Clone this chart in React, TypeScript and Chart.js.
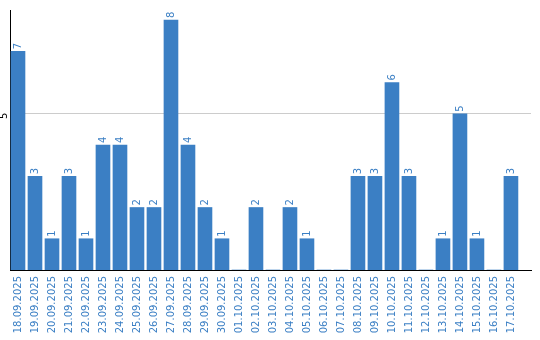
import React, { useEffect, useRef } from "react";
import { Chart, registerables } from "chart.js";

Chart.register(...registerables);

const dates = [
  "18.09.2025", "19.09.2025", "20.09.2025", "21.09.2025", "22.09.2025",
  "23.09.2025", "24.09.2025", "25.09.2025", "26.09.2025", "27.09.2025",
  "28.09.2025", "29.09.2025", "30.09.2025", "01.10.2025", "02.10.2025",
  "03.10.2025", "04.10.2025", "05.10.2025", "06.10.2025", "07.10.2025",
  "08.10.2025", "09.10.2025", "10.10.2025", "11.10.2025", "12.10.2025",
  "13.10.2025", "14.10.2025", "15.10.2025", "16.10.2025", "17.10.2025",
];

const counts = [
  7, 3, 1, 3, 1, 4, 4, 2, 2, 8,
  4, 2, 1, 0, 2, 0, 2, 1, 0, 0,
  3, 3, 6, 3, 0, 1, 5, 1, 0, 3,
];

const yTickValues = [5];

const BLUE = "#3b7fc4";
const FONT = "DejaVu Sans";

const labelPlugin = {
  id: "valueLabels",
  afterDatasetsDraw(chart: any) {
    const ctx = chart.ctx;
    const meta = chart.getDatasetMeta(0);
    ctx.save();
    ctx.font = `10px "${FONT}"`;
    ctx.fillStyle = BLUE;
    ctx.textAlign = "left";
    ctx.textBaseline = "middle";
    meta.data.forEach((bar: any, i: number) => {
      const v = counts[i];
      if (!v) return;
      ctx.save();
      ctx.translate(bar.x, bar.y - 2);
      ctx.rotate(-Math.PI / 2);
      ctx.fillText(String(v), 0, 0);
      ctx.restore();
    });
    // y tick labels (rotated)
    const ys = chart.scales.y;
    ctx.fillStyle = "#000";
    ctx.textAlign = "center";
    ctx.textBaseline = "middle";
    yTickValues.forEach((t) => {
      const py = ys.getPixelForValue(t);
      ctx.save();
      ctx.translate(4, py + 2);
      ctx.rotate(-Math.PI / 2);
      ctx.fillText(String(t), 0, 0);
      ctx.restore();
    });
    ctx.restore();
  },
};

export default function App() {
  const ref = useRef<HTMLCanvasElement | null>(null);

  useEffect(() => {
    if (!ref.current) return;
    const chart = new Chart(ref.current, {
      type: "bar",
      data: {
        datasets: [
          {
            data: counts.map((v, i) => ({ x: i, y: v })),
            backgroundColor: BLUE,
            barThickness: 14,
            borderWidth: 0,
          },
        ],
      },
      options: {
        animation: false,
        responsive: false,
        layout: { padding: { left: 0, right: 9, top: 10, bottom: 0 } },
        plugins: {
          legend: { display: false },
          tooltip: { enabled: false },
        },
        scales: {
          x: {
            type: "linear",
            offset: false,
            min: -0.47,
            max: 30.18,
            afterBuildTicks: (s: any) => {
              s.ticks = dates.map((_, i) => ({ value: i }));
            },
            afterFit: (s: any) => {
              s.height = 70;
            },
            ticks: {
              autoSkip: false,
              minRotation: 90,
              maxRotation: 90,
              padding: 6,
              color: BLUE,
              font: { family: FONT, size: 10 },
              callback: (v: any) => dates[Math.round(v)] ?? "",
            },
            grid: { display: false, drawTicks: false, offset: false },
            border: { display: true, color: "#000", width: 1 },
          },
          y: {
            min: 0,
            max: 8.32,
            afterBuildTicks: (s: any) => {
              s.ticks = yTickValues.map((v) => ({ value: v }));
            },
            afterFit: (s: any) => {
              s.width = 10;
            },
            ticks: { display: false },
            grid: { color: "#cccccc", drawTicks: false, lineWidth: 1 },
            border: { display: true, color: "#000", width: 1 },
          },
        },
      } as any,
      plugins: [labelPlugin],
    });
    return () => chart.destroy();
  }, []);

  return (
    <div style={{ position: "fixed", left: 0, top: 0, width: 540, height: 340, background: "#fff" }}>
      <canvas ref={ref} width={540} height={340} />
    </div>
  );
}
